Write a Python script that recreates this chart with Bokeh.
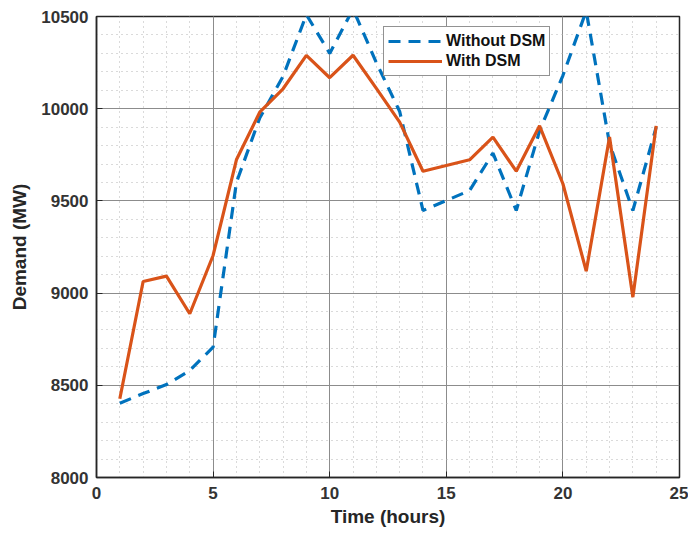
from bokeh.plotting import figure
from bokeh.models import SingleIntervalTicker, Legend, LegendItem, Range1d
from bokeh.embed import file_html
from bokeh.resources import INLINE

hours = list(range(1, 25))
without_dsm = [8403, 8455, 8504, 8580, 8707, 9600, 9950, 10175, 10510, 10300,
               10540, 10250, 9985, 9448, 9502, 9556, 9759, 9448, 9880, 10180,
               10530, 9810, 9448, 9900]
with_dsm = [8427, 9063, 9092, 8888, 9204, 9723, 9981, 10108, 10289, 10168,
            10290, 10110, 9927, 9661, 9692, 9723, 9846, 9661, 9907, 9593,
            9119, 9846, 8978, 9907]

FONT = "Liberation Sans"
BLUE = "#0072BD"
ORANGE = "#D95319"

p = figure(width=688, height=535, output_backend="svg", toolbar_location=None,
           x_range=Range1d(0, 25), y_range=Range1d(8000, 10500),
           min_border_left=96, min_border_right=9, min_border_top=16,
           min_border_bottom=58)
p.background_fill_color = "white"
p.border_fill_color = "white"
p.outline_line_color = "#262626"
p.outline_line_width = 1.5

p.xaxis.ticker = SingleIntervalTicker(interval=5, num_minor_ticks=5)
p.yaxis.ticker = SingleIntervalTicker(interval=500, num_minor_ticks=5)

for ax in (p.xaxis[0], p.yaxis[0]):
    ax.axis_line_color = "#262626"
    ax.axis_line_width = 1.5
    ax.major_tick_in = 6
    ax.major_tick_out = 0
    ax.major_tick_line_color = "#262626"
    ax.minor_tick_in = 0
    ax.minor_tick_out = 0
    ax.major_label_text_font = FONT
    ax.major_label_text_font_style = "bold"
    ax.major_label_text_font_size = "17px"
    ax.major_label_text_color = "#333333"
    ax.axis_label_text_font = FONT
    ax.axis_label_text_font_style = "bold"
    ax.axis_label_text_font_size = "19px"
    ax.axis_label_text_color = "#262626"

p.xaxis.axis_label = "Time (hours)"
p.yaxis.axis_label = "Demand (MW)"
p.xaxis.major_label_standoff = 9
p.yaxis.major_label_standoff = 8
p.xaxis.axis_label_standoff = 4
p.yaxis.axis_label_standoff = 8

for g in (p.xgrid[0], p.ygrid[0]):
    g.grid_line_color = "#8c8c8c"
    g.grid_line_width = 1
    g.minor_grid_line_color = "#b5b5b5"
    g.minor_grid_line_dash = "1 4"
    g.minor_grid_line_width = 1

r1 = p.line(hours, without_dsm, line_color=BLUE, line_width=3.2, line_dash="12 8")
r2 = p.line(hours, with_dsm, line_color=ORANGE, line_width=3.2)

legend = Legend(items=[LegendItem(label="Without DSM", renderers=[r1]),
                       LegendItem(label="With DSM", renderers=[r2])],
                location=(287, 401), margin=0, padding=4, spacing=0,
                label_text_font=FONT, label_text_font_style="bold",
                label_text_font_size="16px", label_text_color="#111111",
                glyph_width=54, glyph_height=20, label_height=20,
                label_standoff=4, border_line_color="#262626",
                border_line_width=1.5, background_fill_color="white",
                background_fill_alpha=1)
p.add_layout(legend, "center")

open("out.html", "w").write(file_html(p, INLINE))
